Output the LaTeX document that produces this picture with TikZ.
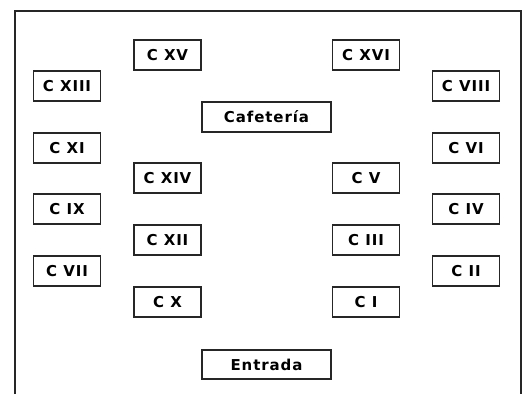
\documentclass[tikz,border=0pt]{standalone}
\usepackage{fontspec}
\setmainfont{DejaVu Sans}
\newfontfamily\boxfont[LetterSpace=6]{DejaVu Sans}
\begin{document}
\begin{tikzpicture}[x=1pt,y=-1pt,
  room/.style={draw=black!85, line width=1.6pt, fill=white, minimum width=67pt, minimum height=30pt, inner sep=0pt, font=\boxfont\bfseries\fontsize{15}{16}\selectfont},
  wide/.style={room, minimum width=129pt}]
\useasboundingbox (0,0) rectangle (526,394);
\draw[line width=1.8pt, black!85] (15,394) -- (15,11) -- (521,11) -- (521,394);
\node[room] (c15) at (167.5,55) {C XV};
\node[room] (c16) at (366,55) {C XVI};
\node[room] (c13) at (67,86) {C XIII};
\node[room] (c8) at (466,86) {C VIII};
\node[wide] (caf) at (266.5,117) {Cafetería};
\node[room] (c11) at (67,148) {C XI};
\node[room] (c6) at (466,148) {C VI};
\node[room] (c14) at (167.5,178) {C XIV};
\node[room] (c5) at (366,178) {C V};
\node[room] (c9) at (67,209) {C IX};
\node[room] (c4) at (466,209) {C IV};
\node[room] (c12) at (167.5,240) {C XII};
\node[room] (c3) at (366,240) {C III};
\node[room] (c7) at (67,271) {C VII};
\node[room] (c2) at (466,271) {C II};
\node[room] (c10) at (167.5,302) {C X};
\node[room] (c1) at (366,302) {C I};
\node[wide, minimum height=29pt] (ent) at (266.5,364.5) {Entrada};
\end{tikzpicture}
\end{document}
